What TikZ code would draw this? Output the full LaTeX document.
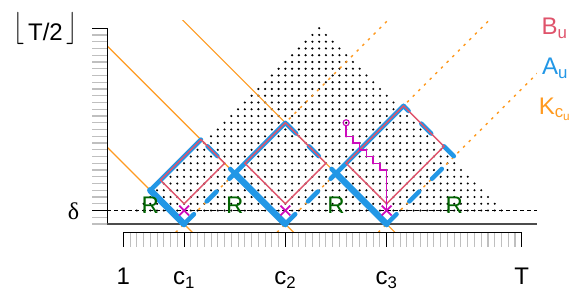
\documentclass[tikz,border=0pt]{standalone}
\usepackage{fontspec}
\setmainfont{Liberation Sans}
\newfontfamily\deltafont{Liberation Serif}
\usepackage{tikz}
\usetikzlibrary{shapes.misc}
\usepackage{xcolor}

\definecolor{bpink}{HTML}{DF536B}
\definecolor{ablue}{HTML}{2297E6}
\definecolor{xmag}{HTML}{CD0BBC}
\definecolor{korange}{HTML}{FF9A20}
\definecolor{rgreen}{HTML}{006400}

\begin{document}
\begin{tikzpicture}[x=6.753pt, y=6.753pt,
    every node/.style={font=\fontsize{24}{28}\selectfont, inner sep=0pt},
    asolid/.style={ablue, line width=4.5pt, line cap=round, line join=round},
    adash/.style={ablue, line width=4.5pt, line cap=round, dash pattern=on 14pt off 18pt},
    bline/.style={bpink, line width=1.4pt},
    ksolid/.style={korange, line width=1.2pt},
    kdots/.style={korange, line width=1.4pt, dash pattern=on 2.5pt off 5.5pt},
    xmark/.style={cross out, draw=xmag, line width=1.8pt, minimum size=8pt},
    rlab/.style={text=rgreen, anchor=base},
    tlab/.style={anchor=base}]
        \useasboundingbox (-17.26,-9.91) rectangle (68.78,33.18);

        % intervals as dots
        \foreach \h in {2,...,29} {
            \pgfmathtruncatemacro{\lo}{1+\h}
            \pgfmathtruncatemacro{\hi}{59-\h}
            \foreach \m in {\lo,...,\hi} \fill (\m,\h) circle (1.15pt);
        }

        % K lines through the change points
        \begin{scope}
            \clip (-1.37,-1.24) rectangle (62.26,30.2);
            \foreach \c in {10,25,40} {
                \draw[ksolid] (\c+1.24,-1.24) -- ++(-40,40);
                \draw[kdots] (\c-1.24,-1.24) -- ++(40,40);
            }
        \end{scope}

        % axes and ruler
        \foreach \h in {0,...,28} \draw[black!25, line width=1.3pt] (-3.59,\h) -- (-1.37,\h);
        \draw[line width=1pt] (-3.59,2) -- (-1.37,2);
        \draw[line width=1pt] (-3.59,29) -- (-1.37,29);
        \draw[line width=1pt] (-1.37,29) -- (-1.37,0);
        \draw[black, line width=0.8pt, dash pattern=on 4pt off 3pt] (-1.37,2) -- (62.26,2);
        \draw[black!70, line width=1.6pt] (-1.37,0) -- (62.26,0);
        \foreach \t in {2,...,59} \draw[black!25, line width=1.1pt] (\t,-1.24) -- (\t,-3.44);
        \foreach \t in {1,10,25,40,60} \draw[line width=1pt] (\t,-1.24) -- (\t,-3.44);
        \draw[line width=1pt] (1,-1.24) -- (60,-1.24);

        % A_u and B_u regions
        \foreach \a/\c/\b/\i in {0/10/25/1, 10/25/40/2, 25/40/60/3} {
            \coordinate (bot\i) at (\c,0);
            \coordinate (lft\i) at ({(\a+\c)/2},{(\c-\a)/2});
            \coordinate (top\i) at ({(\a+\b)/2},{(\b-\a)/2});
            \coordinate (rgt\i) at ({(\c+\b)/2},{(\b-\c)/2});
            \coordinate (pbot\i) at (\c,3);
            \coordinate (plft\i) at ({(\a+\c+3)/2},{(\c+3-\a)/2});
            \coordinate (prgt\i) at ({(\c-3+\b)/2},{(\b-\c+3)/2});
            \draw[adash] (bot\i) -- (rgt\i) -- (top\i);
            \draw[asolid] (lft\i) -- (top\i);
            \draw[asolid, line width=6.5pt] (bot\i) -- (lft\i);
            \draw[bline] (pbot\i) -- (plft\i) -- (top\i) -- (prgt\i) -- cycle;
        }

        % search path
        \node[xmark] (x1) at (10,2) {};
        \node[xmark] (x2) at (25,2) {};
        \node[xmark] (x3) at (40,2) {};
        \node[circle, draw=xmag, line width=1.2pt, minimum size=6pt] (start) at (34,15) {};
        \draw[xmag, line width=1.5pt] (start) -- (34,13) -| (35,12) -| (36,11) -| (37,10) -| (38,9) -| (39,8) -| (x3.center);

        % labels
        \node[rlab] (r1) at (5,1.6) {R};
        \node[rlab] (r2) at (17.5,1.6) {R};
        \node[rlab] (r3) at (32.5,1.6) {R};
        \node[rlab] (r4) at (50,1.6) {R};
        \node[tlab] (lab1) at (1,-9.02) {1};
        \node[tlab] (labc1) at (10,-9.02) {c\textsubscript{1}};
        \node[tlab] (labc2) at (25,-9.02) {c\textsubscript{2}};
        \node[tlab] (labc3) at (40,-9.02) {c\textsubscript{3}};
        \node[tlab] (labT) at (60,-9.02) {T};
        \node[anchor=base east] (labdelta) at (-5.5,0.72) {\deltafont δ};
        \node[anchor=base east] (labhalf) at (-5.7,27.16) {\raisebox{4pt}{\scalebox{1}[1.3]{$\big\lfloor$}}\,T/2\,\raisebox{4pt}{\scalebox{1}[1.3]{$\big\rfloor$}}};
        \node[anchor=base west, text=bpink] (legB) at (62.93,28.1) {B\textsubscript{u}};
        \node[anchor=base west, text=ablue] (legA) at (62.99,22.08) {A\textsubscript{u}};
        \node[anchor=base west, text=korange] (legK) at (62.5,16.26) {K\textsubscript{c\textsubscript{u}}};
\end{tikzpicture}
\end{document}
